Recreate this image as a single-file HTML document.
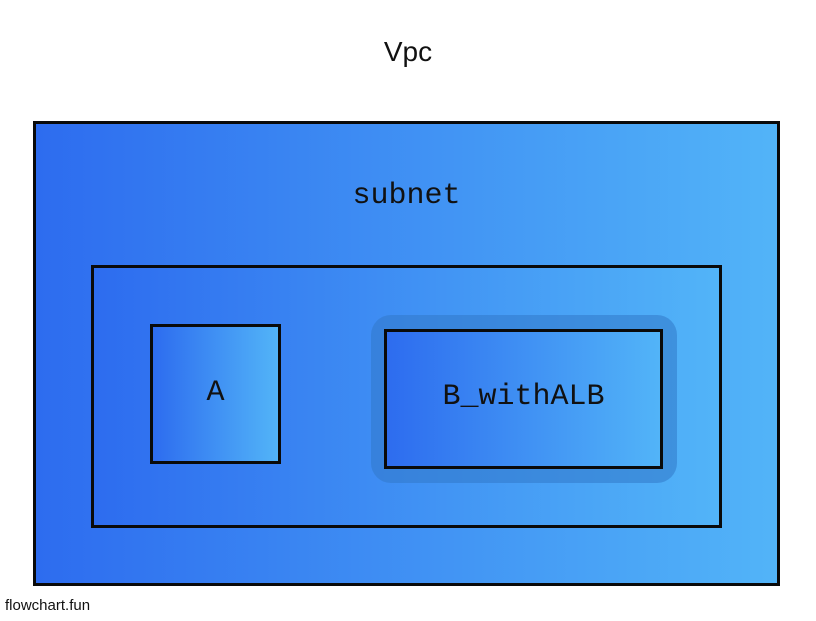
<!DOCTYPE html>
<html><head><style>
body{margin:0;width:816px;height:621px;background:#fff;position:relative;overflow:hidden;font-family:"Liberation Mono",monospace}
.b{position:absolute;box-sizing:border-box;border:3px solid #0a0a0a;background:linear-gradient(to right,#2d6cef,#52b4f8)}
.t{position:absolute;color:#111;text-align:center;line-height:34px}
</style></head><body>
<div class="t" style="left:0;width:816px;top:35px;font-size:28px;font-family:'Liberation Sans',sans-serif">Vpc</div>
<div class="b" style="left:33px;top:121px;width:747px;height:465px"></div>
<div class="t" style="left:33px;width:747px;top:179px;font-size:30px">subnet</div>
<div class="b" style="left:91px;top:265px;width:631px;height:263px"></div>
<div class="b" style="left:150px;top:324px;width:131px;height:140px"></div>
<div class="t" style="left:150px;width:131px;top:376px;font-size:30px">A</div>
<div style="position:absolute;left:371px;top:315px;width:306px;height:168px;border-radius:20px;background:rgba(50,120,200,0.55)"></div>
<div class="b" style="left:384px;top:329px;width:279px;height:140px"></div>
<div class="t" style="left:384px;width:279px;top:380px;font-size:30px">B_withALB</div>
<div style="position:absolute;left:5px;top:597px;font-size:15px;font-family:'Liberation Sans',sans-serif;color:#111">flowchart.fun</div>
</body></html>
